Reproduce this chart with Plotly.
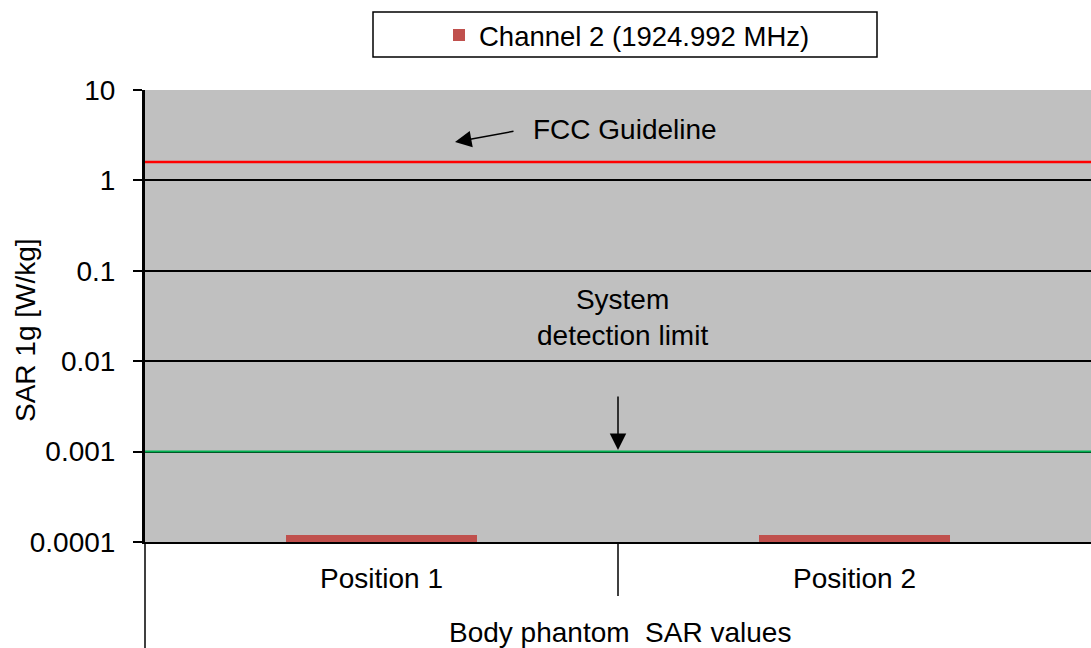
import plotly.graph_objects as go

# ---- data ----
categories = ["Position 1", "Position 2"]
sar_values = [0.00012, 0.00012]
series_name = "Channel 2 (1924.992 MHz)"
fcc_limit = 1.6
detection_limit = 0.001
y_tickvals = [0.0001, 0.001, 0.01, 0.1, 1, 10]
y_ticktext = ["0.0001", "0.001", "0.01", "0.1", "1", "10"]
x_title = "Body phantom  SAR values"
y_title = "SAR 1g [W/kg]"

FONT = "Liberation Sans, Arial, sans-serif"
FS = 28

W, H = 1091, 648
L, R, T, B = 145, 0, 90, 106
plot_w = W - L - R
plot_h = H - T - B

def px_x(p):
    return (p - L) / plot_w

def px_y(p):
    return 1 - (p - T) / plot_h

fig = go.Figure()

fig.add_trace(go.Bar(
    x=categories, y=sar_values, name=series_name,
    marker=dict(color="#C0504D", line=dict(width=0)),
    width=0.405,
))

# horizontal reference lines on an overlaid numeric x axis spanning the full width
fig.add_trace(go.Scatter(
    x=[0, 1], y=[fcc_limit, fcc_limit], xaxis="x2", mode="lines",
    line=dict(color="#FF0000", width=2.5), showlegend=False, hoverinfo="skip",
))
fig.add_trace(go.Scatter(
    x=[0, 1], y=[detection_limit, detection_limit], xaxis="x2", mode="lines",
    line=dict(color="#00B050", width=2), showlegend=False, hoverinfo="skip",
))

fig.update_layout(
    width=W, height=H,
    margin=dict(l=L, r=R, t=T, b=B, autoexpand=False),
    paper_bgcolor="white",
    plot_bgcolor="#C0C0C0",
    font=dict(family=FONT, size=FS, color="black"),
    bargap=0,
    showlegend=True,
    legend=dict(
        x=px_x(439), xanchor="left",
        y=px_y(35), yanchor="middle",
        bgcolor="rgba(0,0,0,0)",
        font=dict(family=FONT, size=27.5, color="black"),
        borderwidth=0,
    ),
    xaxis=dict(
        type="category",
        range=[-0.5, 1.5],
        showgrid=False,
        showline=True, linecolor="black", linewidth=2,
        ticks="", ticklabelstandoff=10,
        tickfont=dict(family=FONT, size=FS, color="black"),
        zeroline=False,
    ),
    xaxis2=dict(
        overlaying="x", range=[0, 1], visible=False, showgrid=False,
    ),
    yaxis=dict(
        type="log",
        range=[-4, 1],
        tickvals=y_tickvals, ticktext=y_ticktext,
        showgrid=True, gridcolor="black", gridwidth=1.5,
        showline=True, linecolor="black", linewidth=3,
        ticks="outside", ticklen=9, tickwidth=1.5, tickcolor="black",
        ticklabelstandoff=12,
        tickfont=dict(family=FONT, size=FS, color="black"),
        zeroline=False,
    ),
)

shapes = [
    # legend box
    dict(type="rect", xref="paper", yref="paper",
         x0=px_x(373), x1=px_x(877), y0=px_y(57), y1=px_y(12),
         line=dict(color="black", width=1.5), fillcolor="rgba(0,0,0,0)", layer="below"),
    # left line extending below the axis
    dict(type="line", xref="paper", yref="paper",
         x0=0, x1=0, y0=0, y1=px_y(H),
         line=dict(color="black", width=1.5)),
    # category divider
    dict(type="line", xref="x", yref="paper",
         x0=0.5, x1=0.5, y0=0, y1=px_y(596),
         line=dict(color="black", width=1.5)),
]
fig.update_layout(shapes=shapes)

annotations = [
    dict(text="FCC Guideline", xref="paper", yref="paper",
         x=px_x(625), y=px_y(129), xanchor="center", yanchor="middle", showarrow=False,
         font=dict(family=FONT, size=FS, color="black")),
    dict(text="", xref="paper", yref="paper",
         x=px_x(455), y=px_y(142), ax=60, ay=-11,
         showarrow=True, arrowhead=2, arrowsize=2.2, arrowwidth=1.5, arrowcolor="black"),
    dict(text="System<br>detection limit", xref="paper", yref="paper",
         x=px_x(622), y=px_y(317), xanchor="center", yanchor="middle", showarrow=False,
         font=dict(family=FONT, size=FS, color="black")),
    dict(text="", xref="x", yref="paper",
         x=0.5, y=px_y(450), ax=0, ay=-55,
         showarrow=True, arrowhead=2, arrowsize=2.2, arrowwidth=1.5, arrowcolor="black"),
    dict(text=x_title, xref="paper", yref="paper",
         x=px_x(620), y=px_y(632), xanchor="center", yanchor="middle", showarrow=False,
         font=dict(family=FONT, size=FS, color="black")),
    dict(text=y_title, xref="paper", yref="paper",
         x=px_x(25), y=px_y(330), xanchor="center", yanchor="middle", showarrow=False,
         textangle=-90,
         font=dict(family=FONT, size=FS, color="black")),
]
fig.update_layout(annotations=annotations)

fig.write_html("out.html", config={"displayModeBar": False},
               post_script="document.body.style.margin='0';")
